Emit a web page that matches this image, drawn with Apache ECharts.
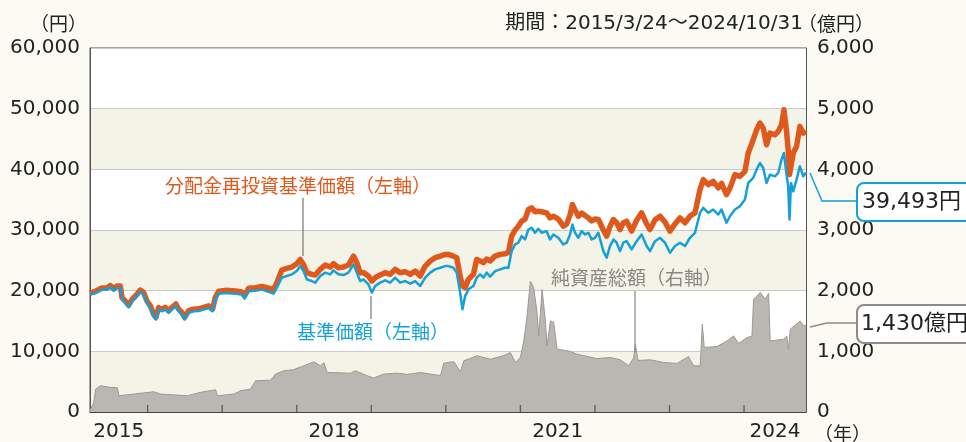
<!DOCTYPE html>
<html>
<head>
<meta charset="utf-8">
<script src="https://cdn.jsdelivr.net/npm/echarts@6/dist/echarts.min.js"></script>
<style>
html, body { margin: 0; padding: 0; background: #fbfaf3; }
#chart { width: 966px; height: 442px; }
</style>
</head>
<body>
<div id="chart"></div>
<script>
// 期間 2015/3/24 ~ 2024/10/31, x = fractional year
const startYear = 2015.227;
const endYear = 2024.831;

const priceYears = [
    2015.227, 2015.299, 2015.387, 2015.454, 2015.500, 2015.544, 2015.588, 2015.634, 2015.656, 2015.701,
    2015.745, 2015.790, 2015.857, 2015.902, 2015.946, 2015.991, 2016.036, 2016.080, 2016.111, 2016.147,
    2016.192, 2016.237, 2016.282, 2016.326, 2016.379, 2016.416, 2016.460, 2016.496, 2016.550, 2016.617,
    2016.684, 2016.751, 2016.818, 2016.871, 2016.908, 2016.952, 2017.042, 2017.176, 2017.264, 2017.300,
    2017.354, 2017.444, 2017.532, 2017.622, 2017.689, 2017.733, 2017.800, 2017.867, 2017.934, 2018.001,
    2018.047, 2018.091, 2018.135, 2018.202, 2018.248, 2018.315, 2018.382, 2018.449, 2018.493, 2018.560,
    2018.627, 2018.694, 2018.761, 2018.806, 2018.851, 2018.895, 2018.962, 2019.007, 2019.052, 2019.119,
    2019.186, 2019.253, 2019.320, 2019.387, 2019.454, 2019.522, 2019.589, 2019.656, 2019.723, 2019.790,
    2019.857, 2019.924, 2019.991, 2020.035, 2020.102, 2020.146, 2020.192, 2020.223, 2020.259, 2020.303,
    2020.370, 2020.414, 2020.460, 2020.504, 2020.548, 2020.594, 2020.661, 2020.728, 2020.795, 2020.839,
    2020.883, 2020.929, 2020.973, 2021.017, 2021.063, 2021.107, 2021.151, 2021.197, 2021.241, 2021.285,
    2021.352, 2021.398, 2021.442, 2021.509, 2021.576, 2021.621, 2021.666, 2021.697, 2021.733, 2021.777,
    2021.822, 2021.867, 2021.912, 2021.956, 2022.001, 2022.046, 2022.113, 2022.157, 2022.202, 2022.247,
    2022.291, 2022.336, 2022.381, 2022.425, 2022.448, 2022.492, 2022.559, 2022.626, 2022.693, 2022.739,
    2022.806, 2022.873, 2022.940, 2023.007, 2023.074, 2023.141, 2023.208, 2023.275, 2023.342, 2023.409,
    2023.453, 2023.520, 2023.587, 2023.654, 2023.698, 2023.765, 2023.811, 2023.878, 2023.945, 2024.012,
    2024.056, 2024.123, 2024.168, 2024.213, 2024.257, 2024.302, 2024.347, 2024.414, 2024.458, 2024.503,
    2024.535, 2024.570, 2024.592, 2024.610, 2024.629, 2024.660, 2024.704, 2024.749, 2024.794, 2024.831
];
// 基準価額（円）
const navValues = [
    19350, 19610, 20170, 20170, 20550, 20000, 20440, 20440, 18520, 17970,
    17260, 18250, 19070, 19780, 19350, 17970, 17150, 15780, 15240, 16880,
    16600, 16880, 16330, 16880, 17430, 16600, 16060, 15240, 16330, 16600,
    16650, 16880, 17150, 16600, 18520, 19510, 19610, 19510, 19350, 18690,
    19890, 20000, 20170, 19800, 19510, 20500, 22140, 22410, 22690, 23230,
    24050, 23230, 21870, 21590, 21320, 22410, 22970, 22690, 23340, 22690,
    22580, 22970, 24330, 22970, 21590, 21870, 21040, 19680, 20770, 21320,
    21700, 21320, 22140, 21320, 21590, 21160, 21590, 20770, 22140, 22970,
    23510, 23780, 24050, 24050, 23780, 22970, 19680, 16930, 19120, 20220,
    20770, 22140, 22690, 22140, 22970, 22310, 23230, 23510, 23780, 23780,
    26520, 27620, 27900, 28990, 28440, 30080, 30360, 29540, 30200, 29540,
    29810, 28440, 29260, 28720, 27620, 27900, 29260, 30910, 29540, 28720,
    29810, 29260, 29540, 28440, 28720, 29540, 26520, 25430, 27350, 28440,
    27900, 26520, 27900, 28160, 27900, 26800, 28160, 29260, 27350, 26520,
    28160, 28720, 27900, 26260, 27350, 27900, 27350, 28720, 29540, 32830,
    33650, 32830, 33370, 32550, 33370, 31190, 32270, 33370, 33920, 35020,
    37760, 38590, 39950, 41050, 40230, 37760, 39130, 38850, 39400, 41590,
    42700, 39130, 37200, 31730, 37760, 36380, 38310, 40500, 38850, 39493
];
// 分配金再投資基準価額（円）
const reinvestValues = [
    19600, 19900, 20450, 20450, 20850, 20300, 20750, 20750, 18850, 18300,
    17600, 18550, 19400, 20100, 19700, 18300, 17500, 16100, 15600, 17200,
    16950, 17250, 16700, 17250, 17800, 16950, 16400, 15600, 16700, 16950,
    17000, 17250, 17500, 16950, 18900, 19900, 20050, 19950, 19800, 19150,
    20400, 20500, 20700, 20400, 20200, 21320, 23400, 23670, 23890, 24440,
    25150, 24330, 22970, 22690, 22580, 23510, 24220, 23890, 24440, 23780,
    23890, 24220, 25700, 24610, 22970, 22970, 22410, 21590, 22140, 22580,
    22970, 22690, 23510, 22970, 23130, 22690, 23230, 22410, 24050, 24880,
    25430, 25700, 25980, 25980, 25700, 25430, 22400, 20770, 20500, 21870,
    22700, 25150, 24900, 24610, 25200, 24900, 25700, 25980, 26100, 26260,
    28990, 30000, 30630, 31450, 31800, 33370, 33650, 33000, 33100, 33000,
    32830, 32000, 32270, 31800, 30630, 31000, 32500, 34200, 33300, 32270,
    32800, 32400, 32000, 31500, 31800, 31730, 30000, 28990, 30600, 31730,
    31200, 30080, 31200, 31450, 30900, 29810, 31600, 32830, 31000, 30080,
    31700, 32270, 31300, 29810, 31000, 32000, 31190, 32300, 32830, 36660,
    38310, 37480, 38030, 36940, 37700, 35840, 36900, 39130, 38850, 39670,
    42700, 44880, 46500, 47630, 46800, 44060, 45980, 45700, 46250, 47350,
    49810, 46250, 43240, 39130, 40500, 42700, 43780, 47080, 45980, 46250
];

// 純資産総額（億円）
const assetYears = [
    2015.227, 2015.276, 2015.303, 2015.37, 2015.504, 2015.594, 2015.615, 2015.816, 2016.084, 2016.174,
    2016.532, 2016.71, 2016.912, 2016.934, 2017.157, 2017.247, 2017.381, 2017.448, 2017.649, 2017.716,
    2017.827, 2017.961, 2018.095, 2018.229, 2018.319, 2018.363, 2018.408, 2018.721, 2018.788, 2018.945,
    2019.034, 2019.168, 2019.347, 2019.481, 2019.66, 2019.928, 2019.972, 2020.106, 2020.196, 2020.24,
    2020.42, 2020.598, 2020.777, 2020.866, 2020.933, 2021.0, 2021.045, 2021.09, 2021.134, 2021.179,
    2021.224, 2021.246, 2021.291, 2021.335, 2021.358, 2021.402, 2021.447, 2021.492, 2021.67, 2021.76,
    2021.894, 2022.028, 2022.206, 2022.34, 2022.452, 2022.519, 2022.542, 2022.577, 2022.743, 2022.921,
    2023.10, 2023.255, 2023.322, 2023.412, 2023.44, 2023.466, 2023.637, 2023.771, 2023.86, 2023.927,
    2024.04, 2024.106, 2024.128, 2024.217, 2024.284, 2024.329, 2024.351, 2024.53, 2024.575, 2024.597,
    2024.62, 2024.753, 2024.797, 2024.831
];
const assetValues = [
    20, 150, 378, 433, 405, 400, 268, 296, 334, 296,
    268, 324, 367, 268, 296, 350, 378, 515, 525, 625,
    679, 700, 761, 827, 760, 815, 652, 640, 680, 597,
    560, 625, 641, 620, 650, 600, 805, 830, 663, 844,
    926, 870, 930, 981, 817, 900, 1172, 1583, 2159, 2050,
    1639, 1254, 2022, 1500, 1090, 1501, 1480, 1036, 1000, 953,
    915, 880, 899, 860, 761, 890, 1118, 850, 860, 817,
    800, 915, 761, 761, 1447, 1064, 1080, 1172, 1254, 1130,
    1228, 1250, 1858, 1968, 1860, 1956, 1172, 1200, 1250, 1036,
    1365, 1501, 1420, 1430
];

const yearTicks = [2016, 2017, 2018, 2019, 2020, 2021, 2022, 2023, 2024];
const yearLabels = [2015, 2018, 2021, 2024];

// label sits in the middle of its year span
const labelPos = yearLabels.map(y => (Math.max(y, startYear) + Math.min(y + 1, endYear)) / 2);

const numFont = 'DejaVu Sans';
const jpFont = "'Noto Sans CJK JP', sans-serif";
const orange = '#e0591c';
const blue = '#15a0d8';
const grayText = '#8b8783';

const chart = echarts.init(document.getElementById('chart'));
chart.setOption({
    animation: false,
    backgroundColor: '#fbfaf3',
    grid: {
        left: 90, right: 160, top: 48, bottom: 29,
        show: true, backgroundColor: '#ffffff', borderColor: '#555', borderWidth: 1
    },
    xAxis: {
        type: 'value',
        min: startYear,
        max: endYear,
        axisLine: { show: true, lineStyle: { color: '#444', width: 1.2 } },
        axisTick: { show: false },
        axisLabel: {
            customValues: labelPos,
            formatter: v => String(Math.floor(v)),
            fontFamily: numFont, fontSize: 20, color: '#222', margin: 10
        },
        splitLine: { show: false }
    },
    yAxis: [{
        type: 'value',
        min: 0, max: 60000, interval: 10000,
        axisLine: { show: true, lineStyle: { color: '#555' } },
        axisTick: { show: false },
        axisLabel: {
            formatter: v => v.toLocaleString('en-US'),
            fontFamily: numFont, fontSize: 20, color: '#222', margin: 10
        },
        splitLine: { show: true, lineStyle: { color: '#c9c9c9', width: 1 } },
        splitArea: { show: true, areaStyle: { color: ['#f4f3e8', '#ffffff'] } }
    }, {
        type: 'value',
        min: 0, max: 6000, interval: 1000,
        axisLine: { show: true, lineStyle: { color: '#555' } },
        axisTick: { show: false },
        axisLabel: {
            formatter: v => v.toLocaleString('en-US'),
            fontFamily: numFont, fontSize: 20, color: '#222', margin: 11
        },
        splitLine: { show: false }
    }],
    series: [{
        name: '純資産総額',
        type: 'line',
        yAxisIndex: 1,
        data: assetYears.map((x, i) => [x, assetValues[i]]),
        showSymbol: false,
        lineStyle: { color: '#9c9994', width: 1 },
        areaStyle: { color: '#bab7b2', opacity: 1 },
        z: 1
    }, {
        name: '分配金再投資基準価額',
        type: 'line',
        data: priceYears.map((x, i) => [x, reinvestValues[i]]),
        showSymbol: false,
        lineStyle: { color: orange, width: 5.5, join: 'round' },
        z: 2
    }, {
        name: '基準価額',
        type: 'line',
        data: priceYears.map((x, i) => [x, navValues[i]]),
        showSymbol: false,
        lineStyle: { color: blue, width: 2.5, join: 'round' },
        z: 3
    }, {
        // year boundary ticks on the bottom axis
        name: 'ticks',
        type: 'scatter',
        data: yearTicks.map(y => [y, 0]),
        symbol: 'rect',
        symbolSize: [1.3, 7],
        symbolOffset: [0, -3.5],
        itemStyle: { color: '#444' },
        silent: true,
        clip: false,
        z: 5
    }],
    graphic: [
        { type: 'text', x: 87, y: 24, style: { text: '（円）', font: '19px ' + jpFont, fill: '#222', align: 'right', verticalAlign: 'middle' } },
        { type: 'text', x: 803, y: 24, style: { text: '期間：2015/3/24～2024/10/31', font: "20px 'DejaVu Sans', 'Noto Sans CJK JP'", fill: '#222', align: 'right', verticalAlign: 'middle' } },
        { type: 'text', x: 798, y: 24, style: { text: '（億円）', font: '19px ' + jpFont, fill: '#222', align: 'left', verticalAlign: 'middle' } },
        { type: 'text', x: 814, y: 434, style: { text: '（年）', font: '19px ' + jpFont, fill: '#222', align: 'left', verticalAlign: 'middle' } },

        { type: 'text', x: 165, y: 186, z: 10, style: { text: '分配金再投資基準価額（左軸）', font: '19px ' + jpFont, fill: orange, align: 'left', verticalAlign: 'middle' } },
        { type: 'line', z: 10, shape: { x1: 303, y1: 198, x2: 303, y2: 256 }, style: { stroke: '#777', lineWidth: 1.2 } },
        { type: 'text', x: 297, y: 332, z: 10, style: { text: '基準価額（左軸）', font: '19px ' + jpFont, fill: blue, align: 'left', verticalAlign: 'middle' } },
        { type: 'line', z: 10, shape: { x1: 371, y1: 296, x2: 371, y2: 319 }, style: { stroke: '#777', lineWidth: 1.2 } },
        { type: 'text', x: 551, y: 278, z: 10, style: { text: '純資産総額（右軸）', font: '19px ' + jpFont, fill: grayText, align: 'left', verticalAlign: 'middle' } },
        { type: 'line', z: 10, shape: { x1: 635, y1: 291, x2: 635, y2: 352 }, style: { stroke: '#8a8782', lineWidth: 1.2 } },

        { type: 'polyline', z: 10, shape: { points: [[810, 173], [822, 201], [857, 201]] }, style: { stroke: blue, lineWidth: 1.5, fill: null } },
        { type: 'rect', z: 10, shape: { x: 857, y: 183, width: 120, height: 38, r: 7 }, style: { stroke: blue, lineWidth: 2, fill: '#fff' } },
        { type: 'text', z: 11, x: 862, y: 202, style: { text: '39,493円', font: "22px 'DejaVu Sans', 'Noto Sans CJK JP'", fill: '#222', align: 'left', verticalAlign: 'middle' } },
        { type: 'polyline', z: 10, shape: { points: [[810, 327], [827, 323], [857, 323]] }, style: { stroke: '#8f8c88', lineWidth: 1.5, fill: null } },
        { type: 'rect', z: 10, shape: { x: 857, y: 305, width: 120, height: 38, r: 7 }, style: { stroke: '#8f8c88', lineWidth: 2, fill: '#fff' } },
        { type: 'text', z: 11, x: 861, y: 324, style: { text: '1,430億円', font: "22px 'DejaVu Sans', 'Noto Sans CJK JP'", fill: '#222', align: 'left', verticalAlign: 'middle' } }
    ]
});
</script>
</body>
</html>
